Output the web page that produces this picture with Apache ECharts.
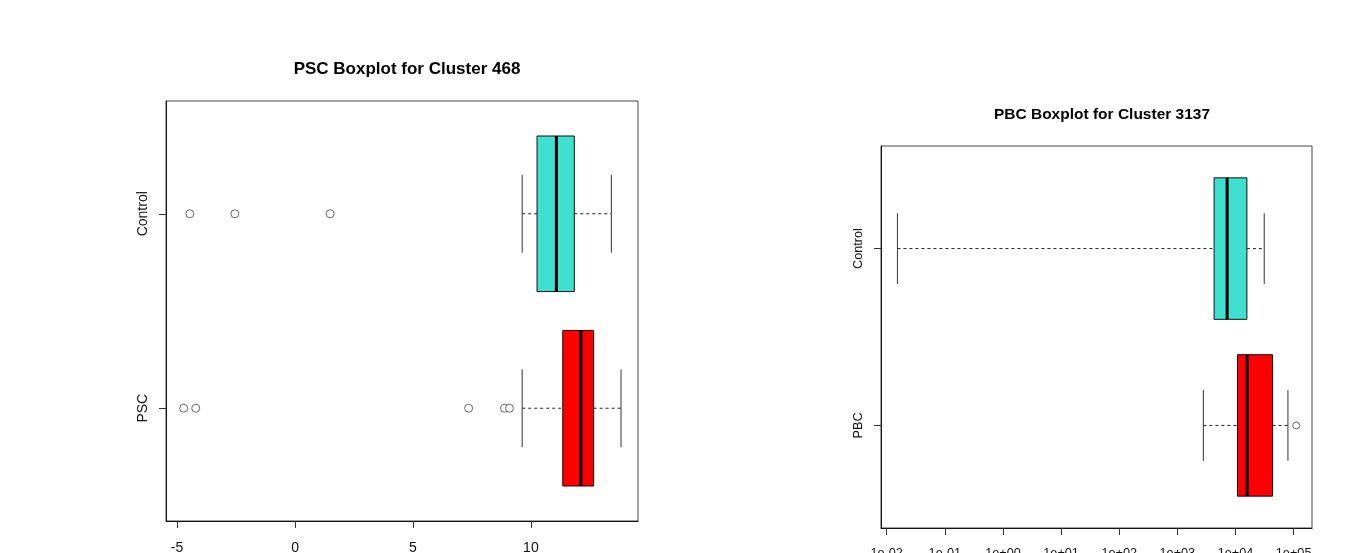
<!DOCTYPE html>
<html>
<head>
<meta charset="utf-8">
<script src="https://cdn.jsdelivr.net/npm/echarts@6/dist/echarts.min.js"></script>
<style>
  html, body { margin: 0; padding: 0; background: #fff; }
  #chart { width: 1355px; height: 553px; }
</style>
</head>
<body>
<div id="chart"></div>
<script>
// left panel: PSC cluster 468, groups bottom -> top
var pscGroups = ["PSC", "Control"];
// [position, whisker low, q1, median, q3, whisker high]
var pscStats = [
  [1, 9.63, 11.35, 12.12, 12.66, 13.82],
  [2, 9.63, 10.26, 11.08, 11.84, 13.41]
];
var pscOutliers = [
  [-4.72, 1], [-4.21, 1], [7.36, 1], [8.88, 1], [9.09, 1],
  [-4.46, 2], [-2.55, 2], [1.49, 2]
];
var pscTicks = [-5, 0, 5, 10];

// right panel: PBC cluster 3137 (log scale)
var pbcGroups = ["PBC", "Control"];
var pbcStats = [
  [1, 2800, 10800, 15900, 43400, 79800],
  [2, 0.0153, 4285, 7180, 15700, 31200]
];
var pbcOutliers = [
  [111000, 1]
];
var pbcTicks = [0.01, 0.1, 1, 10, 100, 1000, 10000, 100000];

var boxColors = ["#FF0000", "#40E0D0"];

function renderBox(params, api) {
  var y = api.value(0);
  var lo = api.coord([api.value(1), y]);
  var q1 = api.coord([api.value(2), y]);
  var med = api.coord([api.value(3), y]);
  var q3 = api.coord([api.value(4), y]);
  var hi = api.coord([api.value(5), y]);
  var top = api.coord([api.value(2), y + 0.4])[1];
  var bot = api.coord([api.value(2), y - 0.4])[1];
  var capTop = api.coord([api.value(2), y + 0.2])[1];
  var capBot = api.coord([api.value(2), y - 0.2])[1];
  var dash = { stroke: "#222", lineWidth: 1, lineDash: [3, 3] };
  var solid = { stroke: "#333", lineWidth: 1 };
  return {
    type: "group",
    children: [
      { type: "line", shape: { x1: lo[0], y1: lo[1], x2: q1[0], y2: q1[1] }, style: dash },
      { type: "line", shape: { x1: q3[0], y1: q3[1], x2: hi[0], y2: hi[1] }, style: dash },
      { type: "line", shape: { x1: lo[0], y1: capTop, x2: lo[0], y2: capBot }, style: solid },
      { type: "line", shape: { x1: hi[0], y1: capTop, x2: hi[0], y2: capBot }, style: solid },
      { type: "rect", shape: { x: q1[0], y: top, width: q3[0] - q1[0], height: bot - top },
        style: { fill: boxColors[params.dataIndex], stroke: "#111", lineWidth: 1 } },
      { type: "line", shape: { x1: med[0], y1: top, x2: med[0], y2: bot },
        style: { stroke: "#000", lineWidth: 3 } }
    ]
  };
}

function logLabel(v) {
  var e = Math.round(Math.log10(v));
  var s = e < 0 ? "-" : "+";
  var a = Math.abs(e);
  return "1e" + s + (a < 10 ? "0" : "") + a;
}

var chart = echarts.init(document.getElementById("chart"));
var font = "Liberation Sans";

chart.setOption({
  animation: false,
  backgroundColor: "#fff",
  title: [
    { text: "PSC Boxplot for Cluster 468", left: 402, top: 56, textAlign: "center",
      textStyle: { fontFamily: font, fontSize: 17, fontWeight: "bold", color: "#000" } },
    { text: "PBC Boxplot for Cluster 3137", left: 1097, top: 102, textAlign: "center",
      textStyle: { fontFamily: font, fontSize: 15.5, fontWeight: "bold", color: "#000" } }
  ],
  grid: [
    { left: 166, top: 101, width: 472, height: 420, show: true, borderColor: "#444", borderWidth: 1,
      outerBoundsMode: "none", containLabel: false },
    { left: 881, top: 146, width: 431, height: 382, show: true, borderColor: "#444", borderWidth: 1,
      outerBoundsMode: "none", containLabel: false }
  ],
  xAxis: [
    {
      gridIndex: 0, type: "value", min: -5.47, max: 14.54,
      splitLine: { show: false },
      axisLine: { show: true, onZero: false, lineStyle: { color: "#111" } },
      axisTick: { length: 7, customValues: pscTicks, lineStyle: { color: "#333" } },
      axisLabel: { customValues: pscTicks, margin: 20, fontFamily: font, fontSize: 14, color: "#111" }
    },
    {
      gridIndex: 1, type: "log", min: Math.pow(10, -2.098), max: Math.pow(10, 5.316),
      splitLine: { show: false },
      axisLine: { show: true, onZero: false, lineStyle: { color: "#111" } },
      axisTick: { length: 7, customValues: pbcTicks, lineStyle: { color: "#333" } },
      axisLabel: { customValues: pbcTicks, formatter: logLabel, margin: 19,
        fontFamily: font, fontSize: 12.7, color: "#111" }
    }
  ],
  yAxis: [
    {
      gridIndex: 0, type: "value", min: 0.42, max: 2.58,
      splitLine: { show: false },
      axisLine: { show: true, onZero: false, lineStyle: { color: "#111" } },
      axisTick: { length: 7, customValues: [1, 2], lineStyle: { color: "#333" } },
      axisLabel: { customValues: [1, 2], rotate: 90, margin: 16,
        formatter: function (v) { return pscGroups[Math.round(v) - 1]; },
        fontFamily: font, fontSize: 14, color: "#111" }
    },
    {
      gridIndex: 1, type: "value", min: 0.42, max: 2.58,
      splitLine: { show: false },
      axisLine: { show: true, onZero: false, lineStyle: { color: "#111" } },
      axisTick: { length: 7, customValues: [1, 2], lineStyle: { color: "#333" } },
      axisLabel: { customValues: [1, 2], rotate: 90, margin: 16,
        formatter: function (v) { return pbcGroups[Math.round(v) - 1]; },
        fontFamily: font, fontSize: 12.7, color: "#111" }
    }
  ],
  series: [
    { type: "custom", xAxisIndex: 0, yAxisIndex: 0, renderItem: renderBox,
      encode: { x: [1, 2, 3, 4, 5], y: 0 }, data: pscStats },
    { type: "scatter", xAxisIndex: 0, yAxisIndex: 0, data: pscOutliers,
      symbol: "circle", symbolSize: 8,
      itemStyle: { color: "#fff", borderColor: "#444", borderWidth: 1 } },
    { type: "custom", xAxisIndex: 1, yAxisIndex: 1, renderItem: renderBox,
      encode: { x: [1, 2, 3, 4, 5], y: 0 }, data: pbcStats },
    { type: "scatter", xAxisIndex: 1, yAxisIndex: 1, data: pbcOutliers,
      symbol: "circle", symbolSize: 7,
      itemStyle: { color: "#fff", borderColor: "#444", borderWidth: 1 } }
  ]
});
</script>
</body>
</html>
